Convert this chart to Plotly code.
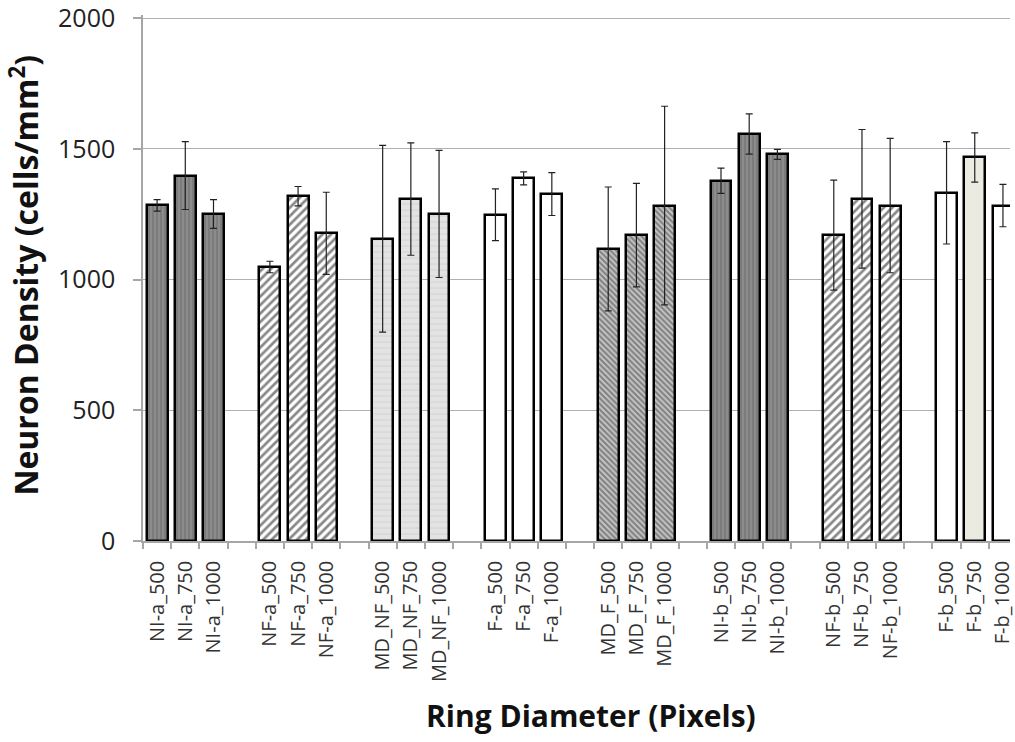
import plotly.graph_objects as go

# ---- data ----
groups = ["NI-a", "NF-a", "MD_NF", "F-a", "MD_F", "NI-b", "NF-b", "F-b"]
diameters = ["500", "750", "1000"]
density = [
    1284, 1398, 1251,   # NI-a
    1048, 1319, 1177,   # NF-a
    1156, 1308, 1251,   # MD_NF
    1248, 1387, 1327,   # F-a
    1117, 1170, 1283,   # MD_F
    1378, 1557, 1479,   # NI-b
    1170, 1309, 1283,   # NF-b
    1332, 1467, 1283,   # F-b
]
err = [
    22, 130, 55,
    22, 37, 157,
    357, 215, 243,
    99, 25, 82,
    237, 198, 380,
    48, 77, 19,
    210, 265, 257,
    196, 94, 81,
]
y_ticks = [0, 500, 1000, 1500, 2000]

# ---- styles per group ----
group_style = {
    "NI-a": dict(shape="|", bg="#8c8c8c", fg="#5c5c5c", size=4, sol=0.35),
    "NF-a": dict(shape="/", bg="#ffffff", fg="#111111", size=6, sol=0.45),
    "MD_NF": dict(shape="-", bg="#e3e3e3", fg="#bdbdbd", size=6, sol=0.15),
    "F-a": dict(shape="", bg="#ffffff", fg="#ffffff", size=6, sol=0.3),
    "MD_F": dict(shape="\\", bg="#c4c4c4", fg="#3a3a3a", size=4, sol=0.5),
    "NI-b": dict(shape="|", bg="#8c8c8c", fg="#5c5c5c", size=4, sol=0.35),
    "NF-b": dict(shape="/", bg="#ffffff", fg="#111111", size=6, sol=0.45),
    "F-b": dict(shape="", bg="#ffffff", fg="#ffffff", size=6, sol=0.3),
}
special_fill = {"F-b_750": "#ecebe2"}

fig = go.Figure()
all_x, all_labels = [], []
for gi, g in enumerate(groups):
    st = group_style[g]
    for di, d in enumerate(diameters):
        idx = gi * 3 + di
        xpos = gi * 4 + di
        lab = f"{g}_{d}"
        all_x.append(xpos)
        all_labels.append(lab)
        bg = special_fill.get(lab, st["bg"])
        pattern = dict(fillmode="overlay", shape=st["shape"], fgcolor=st["fg"],
                       size=st["size"], solidity=st["sol"])
        fig.add_trace(go.Bar(
            x=[xpos], y=[density[idx]], width=0.74,
            marker=dict(color=bg, line=dict(color="#000000", width=2.5),
                        pattern=pattern),
            error_y=dict(type="data", array=[err[idx]], visible=True,
                         color="#222222", thickness=1.2, width=3.5),
            showlegend=False, name=lab,
        ))

n_slots = len(groups) * 4
fig.add_trace(go.Scatter(x=[0], y=[0], xaxis="x2", mode="markers",
                         marker=dict(opacity=0), showlegend=False, hoverinfo="skip"))

xrange = [-0.5, 30.25]
font_family = "'Open Sans', Lato, sans-serif"

fig.update_layout(
    width=1015, height=742,
    margin=dict(l=143, r=0, t=13, b=201),
    plot_bgcolor="white", paper_bgcolor="white",
    font=dict(family=font_family, color="#222222"),
    barmode="overlay", bargap=0,
    xaxis=dict(
        range=xrange, tickmode="array", tickvals=all_x, ticktext=all_labels,
        tickangle=-90, ticks="", showgrid=False, zeroline=False,
        showline=True, linecolor="#a6a6a6", linewidth=1.5,
        tickfont=dict(size=20, color="#333333"), ticklabelstandoff=10,
        ticklabeloverflow="allow",
    ),
    xaxis2=dict(
        range=xrange, overlaying="x", anchor="y", side="bottom",
        tickmode="array", tickvals=[i - 0.5 for i in range(n_slots + 1)],
        ticks="outside", ticklen=7, tickcolor="#a6a6a6", tickwidth=1.5,
        showticklabels=False, showgrid=False, zeroline=False, showline=False,
    ),
    yaxis=dict(
        range=[0, 2012], tickvals=y_ticks, showgrid=True,
        gridcolor="#b0b0b0", gridwidth=1.3, zeroline=False,
        showline=True, linecolor="#a6a6a6", linewidth=1.5,
        ticks="outside", ticklen=8, tickcolor="#a6a6a6", tickwidth=1.5,
        tickfont=dict(size=25, color="#222222"), ticklabelstandoff=13,
        ticklabeloverflow="allow",
    ),
    annotations=[
        dict(text="Neuron Density (cells/mm<sup>2</sup>)", textangle=-90,
             xref="paper", yref="paper", x=-0.137, y=0.505,
             xanchor="center", yanchor="middle", showarrow=False,
             font=dict(size=32, color="#111111", family=font_family, weight="bold")),
        dict(text="Ring Diameter (Pixels)",
             xref="paper", yref="paper", x=0.517, y=-0.331,
             xanchor="center", yanchor="middle", showarrow=False,
             font=dict(size=30, color="#111111", family=font_family, weight="bold")),
    ],
)

fig.write_html("out.html")
